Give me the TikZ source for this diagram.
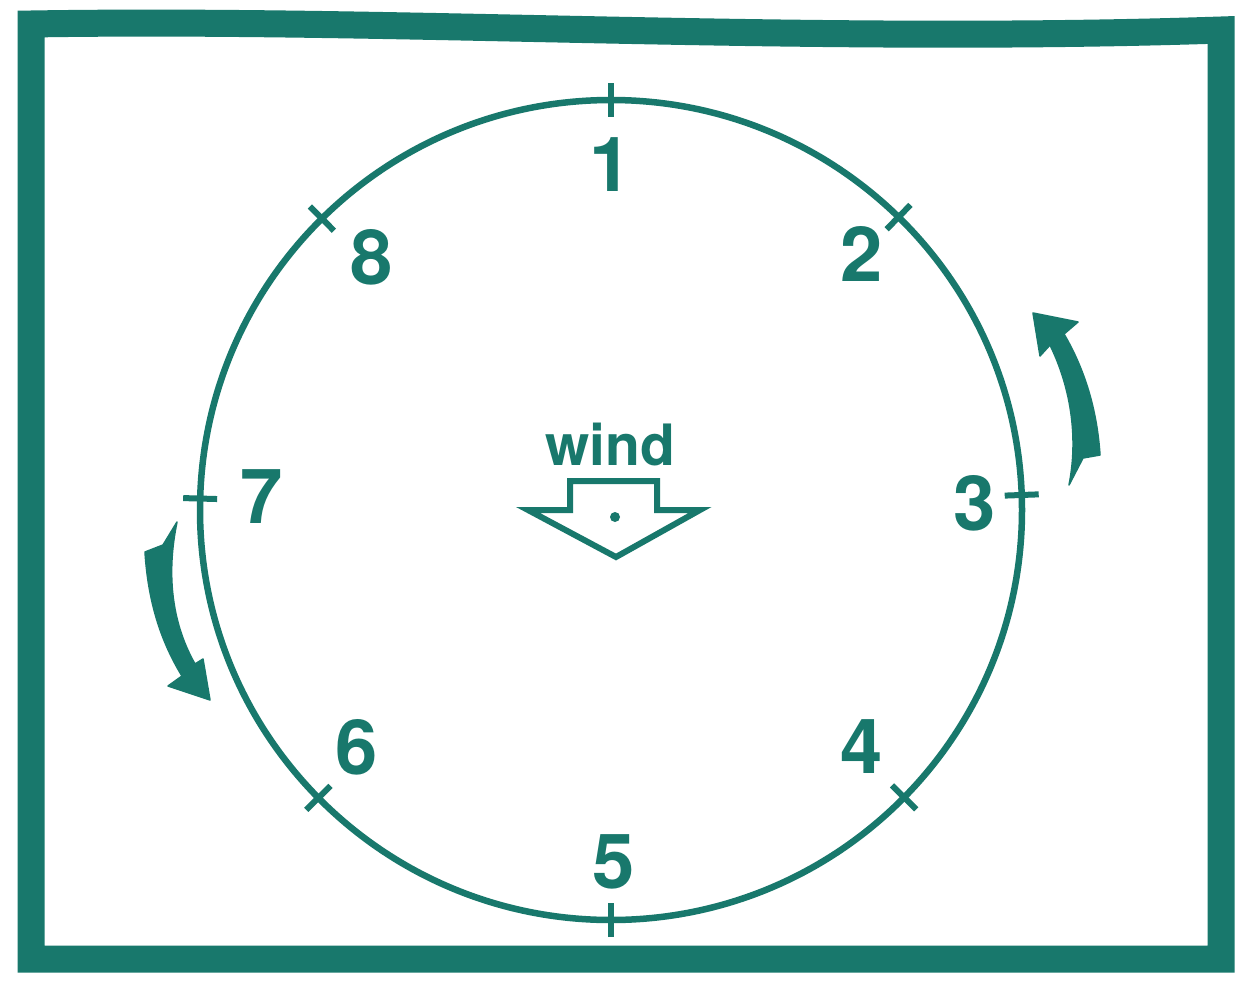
\documentclass[tikz,border=0pt]{standalone}
\usepackage{fontspec}
\usetikzlibrary{calc}
\setmainfont{TeX Gyre Heros}
\definecolor{tealc}{RGB}{24,120,108}
\begin{document}
\begin{tikzpicture}[x=1pt,y=-1pt,
  ink/.style={draw=tealc,line width=6.5pt},
  tickmark/.style={draw=tealc,line width=6pt},
  num/.style={text=tealc,inner sep=0pt,font=\fontsize{76}{80}\selectfont\bfseries},
  bigarrow/.style={fill=tealc,draw=tealc,line width=1.5pt,line join=round}]
\useasboundingbox (0,0) rectangle (1242,982);
\fill[white] (0,0) rectangle (1242,982);
% frame
\draw[draw=tealc,line width=27pt,line join=miter]
  (31,24) .. controls (400,18) and (800,44) .. (1221,30)
  -- (1221,959) -- (31,959) -- cycle;
% circle
\coordinate (c) at (611,510);
\draw[ink] (c) ellipse [x radius=411, y radius=410];
% ticks
\foreach \name/\ang in {t1/90,t2/45.6,t3/2.1,t4/-44.5,t5/-90,t6/-135.4,t7/178.4,t8/134.7}{
  \coordinate (\name) at ($(c)+({411*cos(\ang)},{-410*sin(\ang)})$);
  \draw[tickmark] ($(\name)+({17*cos(\ang)},{-17*sin(\ang)})$) -- ($(\name)+({-17*cos(\ang)},{17*sin(\ang)})$);
}
% labels
\node[num] (n1) at (611,165) {1};
\node[num] (n2) at (862,254) {2};
\node[num] (n3) at (975,503) {3};
\node[num] (n4) at (862,747) {4};
\node[num] (n5) at (614,862) {5};
\node[num] (n6) at (357,747) {6};
\node[num] (n7) at (262,497) {7};
\node[num] (n8) at (372,257) {8};
% wind
\node[text=tealc,inner sep=0pt,anchor=base,font=\fontsize{57}{60}\selectfont\bfseries] (wind) at (610,465) {wind};
\draw[ink,line width=6pt,line join=miter] (570,481) -- (657,481) -- (657,510) -- (700,510) -- (616,557) -- (528,510) -- (570,510) -- cycle;
\fill[tealc] (615,517) circle (5);
% curved arrows
\fill[bigarrow] (1033,313) -- (1078,322) -- (1064,334)
  .. controls (1085,370) and (1097,410) .. (1100,455)
  -- (1083,458) -- (1069,485)
  .. controls (1078,440) and (1072,390) .. (1050,345)
  -- (1040,356) -- cycle;
\fill[bigarrow] (210,700) -- (168,686) -- (182,676)
  .. controls (160,640) and (148,600) .. (145,552)
  -- (163,545) -- (177,522)
  .. controls (167,570) and (170,620) .. (195,664)
  -- (203,659) -- cycle;
\end{tikzpicture}
\end{document}
